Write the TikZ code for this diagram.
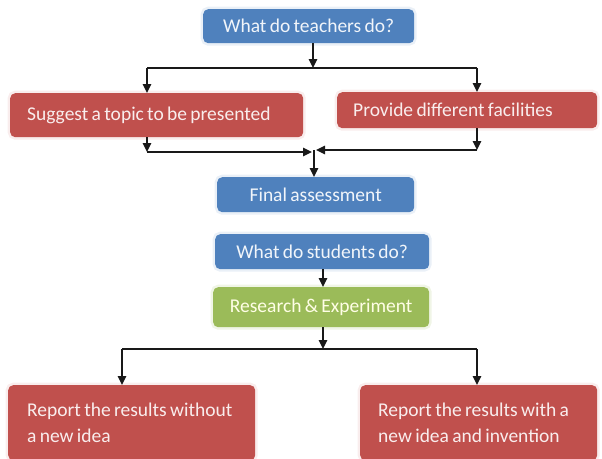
\documentclass[tikz,border=0pt]{standalone}
\usepackage{fontspec}
\setmainfont{Carlito}[WordSpace=0.75]
\usetikzlibrary{arrows.meta}

\definecolor{boxblue}{HTML}{4F81BD}
\definecolor{boxred}{HTML}{C0504D}
\definecolor{boxgreen}{HTML}{9BBB59}

\tikzset{
  box/.style={anchor=north west, rounded corners=5pt, inner sep=0pt,
    font=\fontsize{19.5}{26.5}\selectfont, minimum width=#1},
  bluebox/.style={box=#1, fill=boxblue, text=white!92!boxblue, align=center,
    preaction={draw=boxblue!12, line width=5pt}},
  greenbox/.style={box=#1, fill=boxgreen, text=white!90!yellow, align=center,
    preaction={draw=boxgreen!15, line width=5pt}},
  redbox/.style={box=#1, fill=boxred, text=white!90!boxred, align=left,
    preaction={draw=boxred!10, line width=5pt}},
  arr/.style={-{Triangle[length=9pt,width=8.5pt]}, line width=1.3pt, draw=black!90},
  ln/.style={line width=1.3pt, draw=black!90},
}
% a left-aligned line of fixed width inside a box
\newcommand{\textline}[2]{\makebox[#1][l]{#2}}

\begin{document}
\begin{tikzpicture}[x=1pt, y=-1pt]
  \useasboundingbox (0,0) rectangle (602,458);
  \begin{scope}
  \clip (0,0) rectangle (602,458);

  % teachers' branch
  \node[bluebox=211pt, minimum height=34pt] (tq) at (203,9) {What do teachers do?};
  \node[redbox=293pt, minimum height=44pt]
    (sug) at (10,93) {\textline{259pt}{Suggest a topic to be presented}};
  \node[redbox=260pt, minimum height=36pt]
    (fac) at (337,92) {\textline{228pt}{Provide different facilities}};
  \node[bluebox=197pt, minimum height=35pt] (fin) at (217,177) {Final assessment};

  % students' branch
  \node[bluebox=214pt, minimum height=35pt] (stu) at (215,234) {What do students do?};
  \node[greenbox=216pt, minimum height=40pt] (res) at (213,287) {Research \& Experiment};
  \node[redbox=247pt, minimum height=75pt]
    (bl) at (8,385) {\textline{209pt}{Report the results without}\\a new idea};
  \node[redbox=237pt, minimum height=75pt]
    (br) at (360,385) {\textline{201pt}{Report the results with a}\\new idea and invention};
  \end{scope}

  % junction points
  \coordinate (jt) at (313,68);
  \coordinate (tl) at (147,68);
  \coordinate (tr) at (477,68);
  \coordinate (ml) at (147,152);
  \coordinate (mr) at (477,150);
  \coordinate (jm) at (314,151);
  \coordinate (jb) at (323,349);
  \coordinate (bll) at (122,349);
  \coordinate (brr) at (477,349);

  % teachers' connectors
  \draw[arr] (tq.south -| jt) -- (jt);
  \draw[ln] (tl) -- (tr);
  \draw[arr] (tl) -- (tl |- sug.north);
  \draw[arr] (tr) -- (tr |- fac.north);
  \draw[arr] (sug.south -| ml) -- (ml);
  \draw[arr] (mr |- fac.south) -- (mr);
  \draw[arr, shorten >=2pt] (ml) -- (ml -| jm);
  \draw[arr, shorten >=2pt] (mr) -- (mr -| jm);
  \draw[arr] (jm |- mr) -- (jm |- fin.north);

  % students' connectors
  \draw[arr] (stu.south -| jb) -- (res.north -| jb);
  \draw[arr] (res.south -| jb) -- (jb);
  \draw[ln] (bll) -- (brr);
  \draw[arr] (bll) -- (bll |- bl.north);
  \draw[arr] (brr) -- (brr |- br.north);
\end{tikzpicture}
\end{document}
